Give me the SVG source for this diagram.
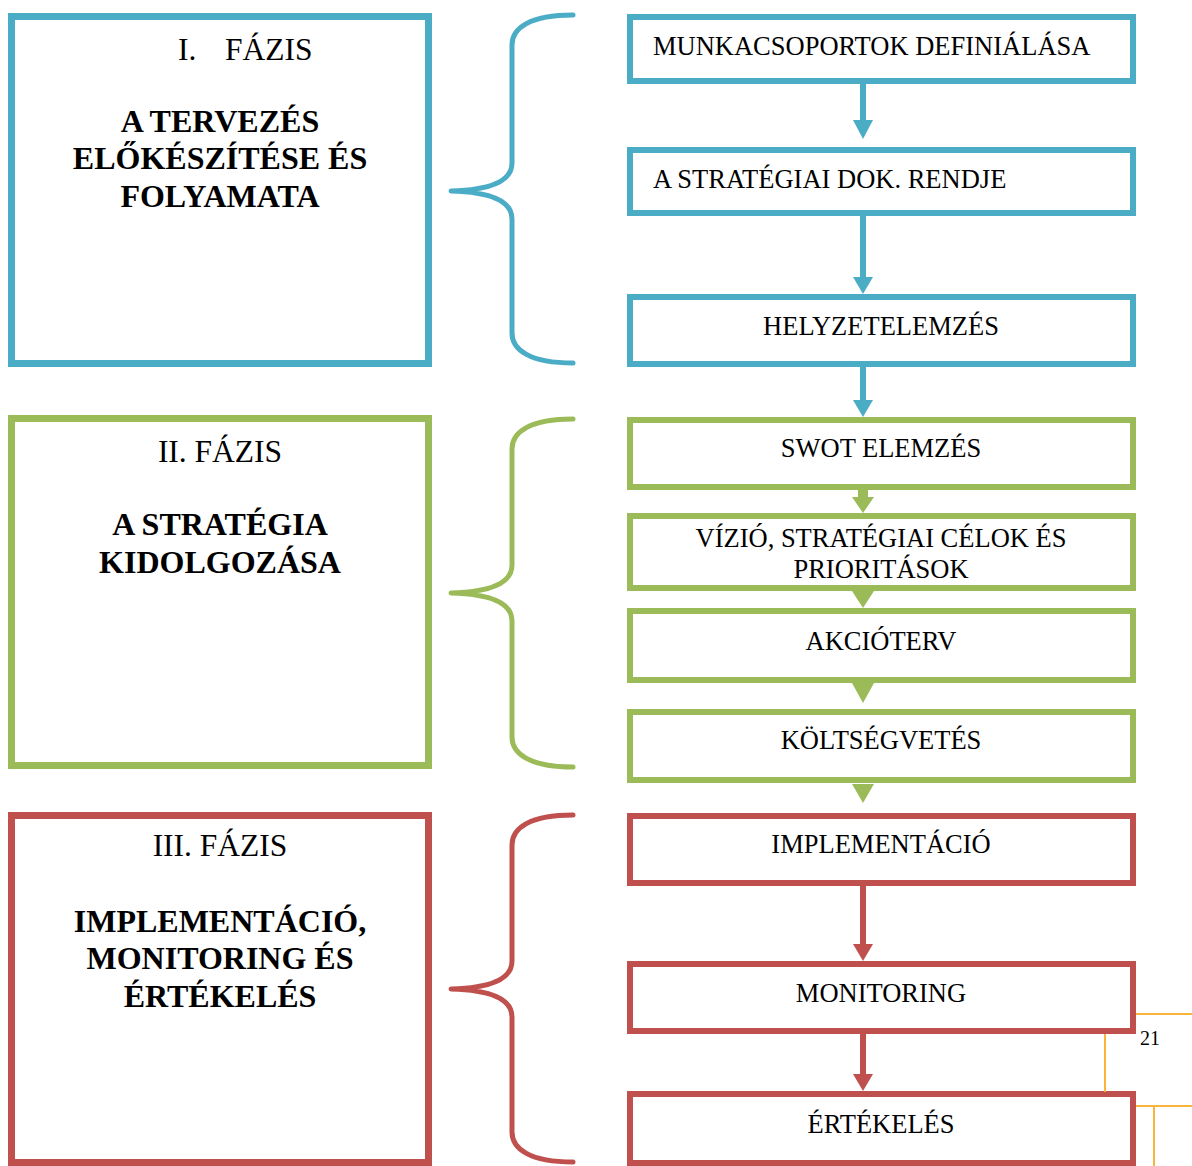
<svg xmlns="http://www.w3.org/2000/svg" width="1192" height="1166" viewBox="0 0 1192 1166">
<style>
.bg{fill:#ffffff}
.phase{fill:none;stroke-width:7}
.step{fill:#ffffff;stroke-width:6}
.brace{fill:none;stroke-width:5;stroke-linecap:round;stroke-linejoin:round}
.blue{stroke:#4BACC6}
.green{stroke:#9BBB59}
.red{stroke:#C0504D}
.t{font-family:"Liberation Serif","Times New Roman",serif;fill:#000000}
.s{font-size:26.5px}
.ph{font-size:31.5px}
.b{font-size:32px;font-weight:bold}
.c{text-anchor:middle}
.ln{stroke-width:6;fill:none}
.orange{stroke:#F9B43A;stroke-width:2;fill:none}
</style>
<rect class="bg" x="0" y="0" width="1192" height="1166"/>

<g id="connectors">
  <line class="ln blue" x1="863" y1="84" x2="863" y2="122"/>
  <polygon points="853,120 873,120 863,139" fill="#4BACC6"/>
  <line class="ln blue" x1="863" y1="216" x2="863" y2="279"/>
  <polygon points="853,277 873,277 863,294" fill="#4BACC6"/>
  <line class="ln blue" x1="863" y1="367" x2="863" y2="402"/>
  <polygon points="853,400 873,400 863,417" fill="#4BACC6"/>
  <rect x="858" y="490" width="10" height="8" fill="#9BBB59"/>
  <polygon points="852,497 874,497 863,513" fill="#9BBB59"/>
  <polygon points="852,591 874,591 863,608" fill="#9BBB59"/>
  <polygon points="852,683 874,683 863,703" fill="#9BBB59"/>
  <polygon points="852,784 874,784 863,803" fill="#9BBB59"/>
  <line class="ln red" x1="863" y1="886" x2="863" y2="946"/>
  <polygon points="853,944 873,944 863,961" fill="#C0504D"/>
  <line class="ln red" x1="863" y1="1034" x2="863" y2="1076"/>
  <polygon points="853,1074 873,1074 863,1091" fill="#C0504D"/>
</g>

<g id="phase1">
  <rect class="phase blue" x="11.5" y="16.5" width="417" height="347"/>
  <text class="t ph" x="178" y="60">I.</text>
  <text class="t ph" x="225" y="60">FÁZIS</text>
  <text class="t b c" x="220" y="132">A TERVEZÉS</text>
  <text class="t b c" x="220" y="169">ELŐKÉSZÍTÉSE ÉS</text>
  <text class="t b c" x="220" y="207">FOLYAMATA</text>
</g>
<g id="phase2">
  <rect class="phase green" x="11.5" y="418.5" width="417" height="347"/>
  <text class="t ph c" x="220" y="462">II. FÁZIS</text>
  <text class="t b c" x="220" y="535">A STRATÉGIA</text>
  <text class="t b c" x="220" y="573">KIDOLGOZÁSA</text>
</g>
<g id="phase3">
  <rect class="phase red" x="11.5" y="815.5" width="417" height="347"/>
  <text class="t ph c" x="220" y="856">III. FÁZIS</text>
  <text class="t b c" x="220" y="932">IMPLEMENTÁCIÓ,</text>
  <text class="t b c" x="220" y="969">MONITORING ÉS</text>
  <text class="t b c" x="220" y="1007">ÉRTÉKELÉS</text>
</g>

<g id="braces">
  <path class="brace blue" d="M573,15 C530,15 512,28 512,45 L512,163 C512,181 490,190 451,191 C490,192 512,201 512,219 L512,333 C512,350 530,363 573,363"/>
  <path class="brace green" d="M573,419 C530,419 512,432 512,449 L512,565 C512,583 490,592 451,593 C490,594 512,603 512,621 L512,737 C512,754 530,767 573,767"/>
  <path class="brace red" d="M573,815 C530,815 512,828 512,845 L512,961 C512,979 490,988 451,989 C490,990 512,999 512,1017 L512,1132 C512,1149 530,1162 573,1162"/>
</g>

<g id="step-munkacsoportok">
  <rect class="step blue" x="630" y="17" width="503" height="64"/>
  <text class="t s" x="653" y="55">MUNKACSOPORTOK DEFINIÁLÁSA</text>
</g>
<g id="step-dok">
  <rect class="step blue" x="630" y="150" width="503" height="63"/>
  <text class="t s" x="653" y="188">A STRATÉGIAI DOK. RENDJE</text>
</g>
<g id="step-helyzet">
  <rect class="step blue" x="630" y="297" width="503" height="67"/>
  <text class="t s c" x="881" y="335">HELYZETELEMZÉS</text>
</g>
<g id="step-swot">
  <rect class="step green" x="630" y="420" width="503" height="67"/>
  <text class="t s c" x="881" y="457">SWOT ELEMZÉS</text>
</g>
<g id="step-vizio">
  <rect class="step green" x="630" y="516" width="503" height="72"/>
  <text class="t s c" x="881" y="547">VÍZIÓ, STRATÉGIAI CÉLOK ÉS</text>
  <text class="t s c" x="881" y="578">PRIORITÁSOK</text>
</g>
<g id="step-akcio">
  <rect class="step green" x="630" y="611" width="503" height="69"/>
  <text class="t s c" x="881" y="650">AKCIÓTERV</text>
</g>
<g id="step-koltseg">
  <rect class="step green" x="630" y="712" width="503" height="68"/>
  <text class="t s c" x="881" y="749">KÖLTSÉGVETÉS</text>
</g>
<g id="step-impl">
  <rect class="step red" x="630" y="816" width="503" height="67"/>
  <text class="t s c" x="881" y="853">IMPLEMENTÁCIÓ</text>
</g>
<g id="step-monitoring">
  <rect class="step red" x="630" y="964" width="503" height="67"/>
  <text class="t s c" x="881" y="1002">MONITORING</text>
</g>
<g id="step-ertekeles">
  <rect class="step red" x="630" y="1094" width="503" height="69"/>
  <text class="t s c" x="881" y="1133">ÉRTÉKELÉS</text>
</g>

<g id="page-number">
  <line class="orange" x1="1136" y1="1014" x2="1192" y2="1014"/>
  <line class="orange" x1="1105" y1="1034" x2="1105" y2="1092"/>
  <line class="orange" x1="1136" y1="1106" x2="1192" y2="1106"/>
  <line class="orange" x1="1154" y1="1106" x2="1154" y2="1166"/>
  <text class="t" x="1140" y="1045" font-size="20">21</text>
</g>
</svg>
